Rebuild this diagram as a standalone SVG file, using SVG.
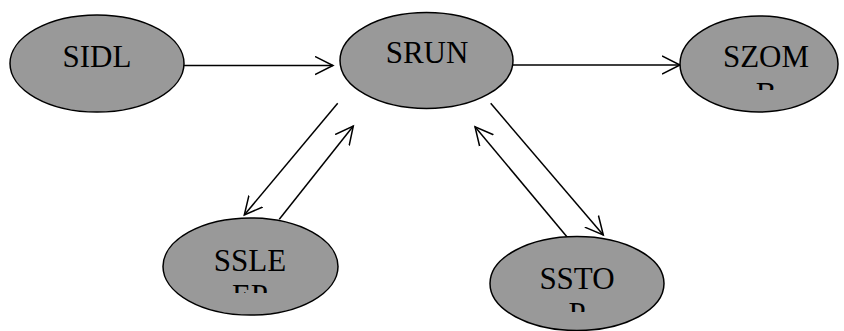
<svg xmlns="http://www.w3.org/2000/svg" width="844" height="331" viewBox="0 0 844 331">
<style>
.node ellipse{fill:#999999;stroke:#000;stroke-width:1.5}
.edge{stroke:#000;stroke-width:1.5;fill:none;marker-end:url(#arr)}
</style>
<defs>
<marker id="arr" viewBox="0 0 20 20" refX="18" refY="10" markerWidth="20" markerHeight="20" markerUnits="userSpaceOnUse" orient="auto">
<path d="M0,1 L18,10 L0,19" fill="none" stroke="#000" stroke-width="1.5"/>
</marker>
<clipPath id="c1"><rect x="680" y="30" width="164" height="60"/></clipPath>
<clipPath id="c2"><rect x="163" y="230" width="175" height="63"/></clipPath>
<clipPath id="c3"><rect x="490" y="250" width="175" height="62"/></clipPath>
</defs>
<g id="connectors">
<line class="edge" x1="184" y1="65.5" x2="333" y2="65.5"/>
<line class="edge" x1="512" y1="65" x2="680" y2="65"/>
<line class="edge" x1="337.7" y1="103.3" x2="244.3" y2="215"/>
<line class="edge" x1="279.3" y1="219.3" x2="353.3" y2="126"/>
<line class="edge" x1="490.7" y1="103.3" x2="603.3" y2="235"/>
<line class="edge" x1="567.3" y1="237.3" x2="475" y2="126.7"/>
</g>
<g font-family="'Liberation Serif', 'Times New Roman', serif" font-size="31" text-anchor="middle" fill="#000">
<g id="SIDL" class="node">
<ellipse cx="97" cy="63.5" rx="87" ry="48.5"/>
<text x="97" y="67">SIDL</text>
</g>
<g id="SRUN" class="node">
<ellipse cx="426.5" cy="60.5" rx="86.5" ry="48"/>
<text x="427" y="63">SRUN</text>
</g>
<g id="SZOMB" class="node">
<ellipse cx="759" cy="64" rx="79" ry="48"/>
<g clip-path="url(#c1)"><text x="766" y="67">SZOM</text><text x="766" y="104">B</text></g>
</g>
<g id="SSLEEP" class="node">
<ellipse cx="250.5" cy="266.5" rx="87.5" ry="48.5"/>
<g clip-path="url(#c2)"><text x="250" y="271">SSLE</text><text x="250" y="306">EP</text></g>
</g>
<g id="SSTOP" class="node">
<ellipse cx="577" cy="283.5" rx="87" ry="47"/>
<g clip-path="url(#c3)"><text x="577" y="289">SSTO</text><text x="577" y="324">P</text></g>
</g>
</g>
</svg>
